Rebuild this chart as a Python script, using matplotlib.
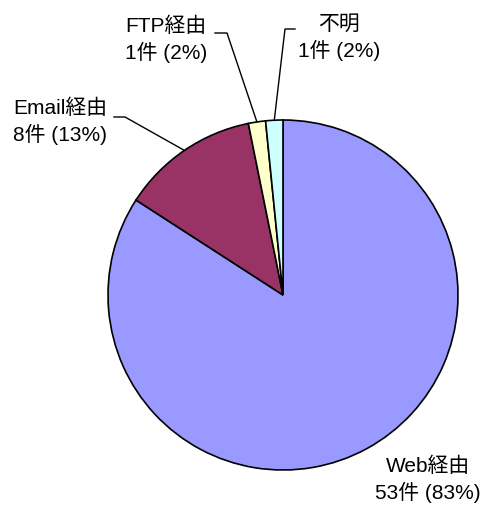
import matplotlib as mpl
import matplotlib.pyplot as plt
import numpy as np

mpl.rcParams["font.family"] = ["Liberation Sans", "Noto Sans CJK JP", "DejaVu Sans"]

# data
names = ["Web経由", "Email経由", "FTP経由", "不明"]
counts = [53, 8, 1, 1]
pct_labels = ["83%", "13%", "2%", "2%"]
colors = ["#9999FF", "#993366", "#FFFFCC", "#CCFFFF"]

W, H = 481, 525
fig = plt.figure(figsize=(W / 100, H / 100), dpi=100)
ax = fig.add_axes([0, 0, 1, 1])
ax.set_xlim(0, W)
ax.set_ylim(0, H)
ax.set_aspect("equal")
ax.axis("off")

cx, cy, r = 283, H - 295, 175
wedges, _ = ax.pie(
    counts,
    colors=colors,
    startangle=90,
    counterclock=False,
    center=(cx, cy),
    radius=r,
    wedgeprops=dict(edgecolor="black", linewidth=1.2),
    frame=True,
)
ax.set_xlim(0, W)
ax.set_ylim(0, H)
ax.axis("off")

# label layout: text center, leader elbow, leader start (pixel coords from top)
text_pos = [(428, 480), (60, 122), (166, 40), (339, 38)]
elbows = [None, (125, 117), (227, 33), (285, 29)]
starts = [None, (114, 117), (215, 33), (295, 29)]

for i, w in enumerate(wedges):
    label = f"{names[i]}\n{counts[i]}件 ({pct_labels[i]})"
    tx, ty = text_pos[i]
    ax.text(tx, H - ty, label, ha="center", va="center", fontsize=15,
            linespacing=1.35, multialignment="center" if i != 1 else "left")
    if elbows[i] is not None:
        ang = np.deg2rad((w.theta1 + w.theta2) / 2)
        px, py = cx + r * np.cos(ang), cy + r * np.sin(ang)
        ex, ey = elbows[i]
        sx, sy = starts[i]
        ax.plot([sx, ex, px], [H - sy, H - ey, py], color="black", lw=1)

fig.savefig("out.png", dpi=100, facecolor="white")
